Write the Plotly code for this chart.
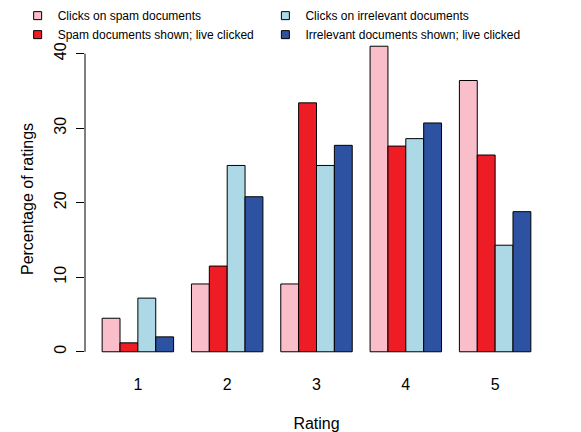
import plotly.graph_objects as go

ratings = ["1", "2", "3", "4", "5"]
series_names = [
    "Clicks on spam documents",
    "Spam documents shown; live clicked",
    "Clicks on irrelevant documents",
    "Irrelevant documents shown; live clicked",
]
clicks_spam = [4.5, 9.1, 9.1, 41.0, 36.4]
spam_shown = [1.2, 11.5, 33.4, 27.6, 26.4]
clicks_irrelevant = [7.2, 25.0, 25.0, 28.6, 14.3]
irrelevant_shown = [2.0, 20.8, 27.7, 30.7, 18.8]
y_ticks = [0, 10, 20, 30, 40]

colors = ["#F9BECA", "#EE1D25", "#ADD8E6", "#2E52A2"]
values = [clicks_spam, spam_shown, clicks_irrelevant, irrelevant_shown]
legend_ids = ["legend", "legend", "legend2", "legend2"]

FONT = "Liberation Sans, Arial, Helvetica, sans-serif"

fig = go.Figure()
for name, vals, col, lg in zip(series_names, values, colors, legend_ids):
    fig.add_trace(go.Bar(
        x=ratings, y=vals, name=name, marker_color=col,
        marker_line=dict(color="black", width=1),
        showlegend=False,
    ))
    fig.add_trace(go.Scatter(
        x=[None], y=[None], mode="markers", name=name,
        marker=dict(symbol="square", size=8, color=col, line=dict(color="black", width=1)),
        legend=lg, showlegend=True,
    ))

fig.add_shape(type="line", xref="paper", yref="y", x0=0, x1=0, y0=0, y1=40,
              line=dict(color="black", width=1))

legend_style = dict(
    orientation="v", yanchor="top", xanchor="left", y=1.0996,
    font=dict(family=FONT, size=12, color="black"),
    bgcolor="rgba(0,0,0,0)", borderwidth=0,
    itemclick=False, tracegroupgap=0, traceorder="normal",
)

fig.update_layout(
    width=581, height=432,
    margin=dict(l=84.5, r=32.5, t=34.3, b=67.8, autoexpand=False),
    paper_bgcolor="white", plot_bgcolor="white",
    font=dict(family=FONT, size=16, color="black"),
    barmode="group", bargap=0.2, bargroupgap=0,
    showlegend=True,
    legend=dict(x=-0.1455, **legend_style),
    legend2=dict(x=0.3896, **legend_style),
    xaxis=dict(
        range=[-0.592, 4.592], showline=False, showgrid=False, zeroline=False,
        ticks="outside", ticklen=6, tickcolor="rgba(0,0,0,0)",
        tickfont=dict(size=16),
        title=dict(text="Rating", font=dict(size=16), standoff=27),
    ),
    yaxis=dict(
        range=[-1.64, 42.64], tickvals=y_ticks, ticktext=[str(v) for v in y_ticks],
        showline=False, showgrid=False, zeroline=False,
        ticks="outside", ticklen=8, tickcolor="black", tickwidth=1,
        tickangle=-90, tickfont=dict(size=16), ticklabelstandoff=4,
        title=dict(text="Percentage of ratings", font=dict(size=16), standoff=13),
    ),
)

fig.write_html(
    "out.html",
    config={"displayModeBar": False},
    post_script="document.body.style.margin='0';document.body.style.overflow='hidden';",
)
